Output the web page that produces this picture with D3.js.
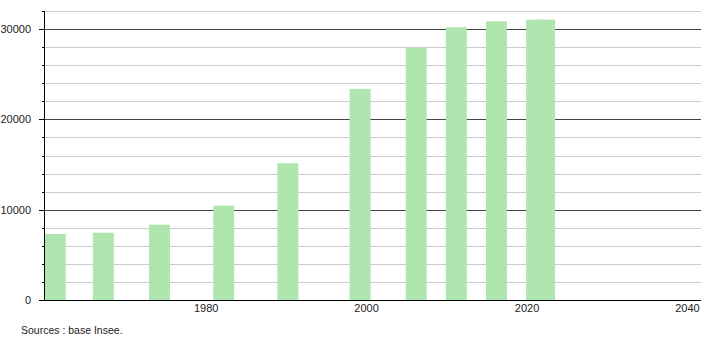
<!DOCTYPE html>
<html>
<head>
<meta charset="utf-8">
<script src="https://cdn.jsdelivr.net/npm/d3@7"></script>
<style>
  html, body { margin: 0; padding: 0; background: #fff; }
  svg { display: block; font-family: "Liberation Sans", Arial, sans-serif; }
</style>
</head>
<body>
<svg id="chart" width="710" height="340"></svg>
<script>
// Data
const years = [1961, 1967, 1974, 1982, 1990, 1999, 2006, 2011, 2016, 2021, 2022];
const population = [7310, 7450, 8340, 10440, 15140, 23370, 27940, 30200, 30860, 31040, 31040];
const xTickYears = [1980, 2000, 2020, 2040];
const yMajorTicks = [0, 10000, 20000, 30000];
const yMinorTicks = d3.range(0, 32001, 2000);
const sourceText = "Sources : base Insee.";

(function () {
const svg = d3.select("#chart");
const mLeft = 44, mRight = 701, mTop = 11, mBottom = 300;

const x = d3.scaleLinear().domain([1959.6, 2041.5]).range([mLeft, mRight]);
const y = d3.scaleLinear().domain([0, 32000]).range([mBottom, mTop]);
const barW = 21;

// minor gridlines
svg.append("g").selectAll("line").data(yMinorTicks.filter(v => v % 10000 !== 0)).join("line")
  .attr("x1", mLeft).attr("x2", mRight)
  .attr("y1", d => Math.round(y(d)) + 0.5).attr("y2", d => Math.round(y(d)) + 0.5)
  .attr("stroke", "#cccccc").attr("stroke-width", 1);

// major gridlines
svg.append("g").selectAll("line").data(yMajorTicks.filter(v => v > 0)).join("line")
  .attr("x1", mLeft).attr("x2", mRight)
  .attr("y1", d => Math.round(y(d)) + 0.5).attr("y2", d => Math.round(y(d)) + 0.5)
  .attr("stroke", "#444444").attr("stroke-width", 1);

// bars
const data = years.map((yr, i) => ({ yr, v: population[i] }));
svg.append("g").selectAll("rect").data(data).join("rect")
  .attr("x", d => x(d.yr) - barW / 2)
  .attr("width", barW)
  .attr("y", d => y(d.v))
  .attr("height", d => y(0) - y(d.v))
  .attr("fill", "#afe5af");

// y axis
const yAxis = svg.append("g");
yAxis.append("line").attr("x1", mLeft + 0.5).attr("x2", mLeft + 0.5)
  .attr("y1", mTop).attr("y2", mBottom).attr("stroke", "#000");
yAxis.selectAll("line.tick").data(yMinorTicks).join("line").attr("class", "tick")
  .attr("x1", d => yMajorTicks.includes(d) ? mLeft - 5 : mLeft - 2).attr("x2", mLeft)
  .attr("y1", d => Math.round(y(d)) + 0.5).attr("y2", d => Math.round(y(d)) + 0.5)
  .attr("stroke", "#000");
yAxis.selectAll("text").data(yMajorTicks).join("text")
  .attr("x", 31).attr("y", d => y(d) + 4)
  .attr("text-anchor", "end").attr("font-size", 11).attr("fill", "#222")
  .text(d => d);

// x axis
svg.append("line").attr("x1", mLeft).attr("x2", mRight)
  .attr("y1", mBottom + 0.5).attr("y2", mBottom + 0.5).attr("stroke", "#000");
svg.append("g").selectAll("text").data(xTickYears).join("text")
  .attr("x", d => x(d) - 1.5).attr("y", 312)
  .attr("text-anchor", "middle").attr("font-size", 11).attr("fill", "#222")
  .text(d => d);

// source
svg.append("text").attr("x", 21).attr("y", 334)
  .attr("font-size", 10.5).attr("fill", "#222").text(sourceText);
})();
</script>
</body>
</html>
